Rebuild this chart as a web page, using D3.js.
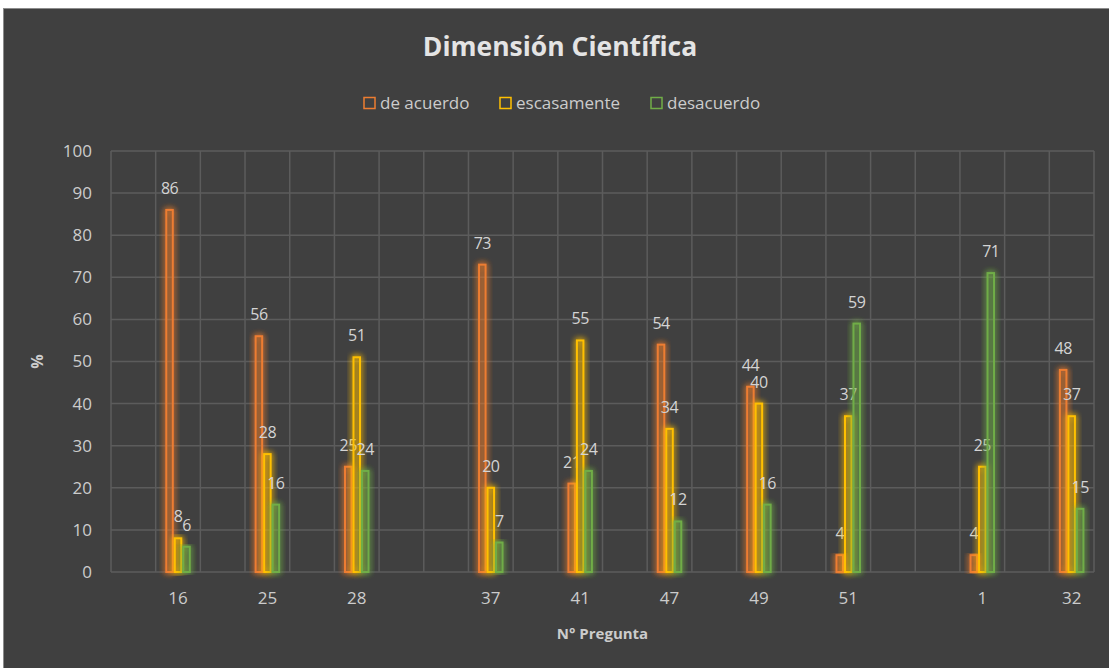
<!DOCTYPE html>
<html>
<head>
<meta charset="utf-8">
<script src="https://cdn.jsdelivr.net/npm/d3@7"></script>
<style>
  body { margin: 0; background: #fff; }
  svg { display: block; }
</style>
</head>
<body>
<svg></svg>
<script>
const width = 1109, height = 668;

// Data (blank rows in the source sheet leave empty slots on the axis)
const categories = ["", "16", "", "25", "", "28", "", "", "37", "", "41", "", "47", "", "49", "", "51", "", "", "1", "", "32"];
const deAcuerdo   = [null, 86, null, 56, null, 25, null, null, 73, null, 21, null, 54, null, 44, null, 4, null, null, 4, null, 48];
const escasamente = [null, 8, null, 28, null, 51, null, null, 20, null, 55, null, 34, null, 40, null, 37, null, null, 25, null, 37];
const desacuerdo  = [null, 6, null, 16, null, 24, null, null, 7, null, 24, null, 12, null, 16, null, 59, null, null, 71, null, 15];
const seriesNames = ["de acuerdo", "escasamente", "desacuerdo"];
const seriesColors = ["#ED7D31", "#FFC000", "#70AD47"];
const yTicks = [0, 10, 20, 30, 40, 50, 60, 70, 80, 90, 100];

const series = [deAcuerdo, escasamente, desacuerdo];
const font = "'Open Sans', sans-serif";
const textColor = "#cccccc";

const svg = d3.select("svg").attr("width", width).attr("height", height);

// Chart background
svg.append("rect")
    .attr("x", 3.5).attr("y", 8.5)
    .attr("width", width - 3).attr("height", height - 8)
    .attr("fill", "#404040")
    .attr("stroke", "#8c8c8c");

// Glow filter for the outlined bars
const defs = svg.append("defs");
const glow = defs.append("filter").attr("id", "glow")
    .attr("x", "-100%").attr("y", "-10%").attr("width", "300%").attr("height", "120%");
glow.append("feGaussianBlur").attr("in", "SourceGraphic").attr("stdDeviation", 3).attr("result", "blur");
const merge = glow.append("feMerge");
merge.append("feMergeNode").attr("in", "blur");
merge.append("feMergeNode").attr("in", "blur");
merge.append("feMergeNode").attr("in", "SourceGraphic");

const margin = { left: 111, right: 15, top: 151, bottom: 96 };

const x = d3.scaleBand()
    .domain(d3.range(categories.length))
    .range([margin.left, width - margin.right])
    .padding(0);

const groupWidth = x.bandwidth() * 0.57;
const xs = d3.scaleBand()
    .domain(d3.range(series.length))
    .range([-groupWidth / 2, groupWidth / 2])
    .padding(0);

const y = d3.scaleLinear()
    .domain([0, 100])
    .range([height - margin.bottom, margin.top]);

// Gridlines
const grid = svg.append("g").attr("stroke", "#5c5c5c").attr("stroke-width", 1.5);
grid.selectAll("line.h")
    .data(yTicks)
    .enter().append("line")
    .attr("x1", x.range()[0]).attr("x2", x.range()[1])
    .attr("y1", d => y(d)).attr("y2", d => y(d));
grid.selectAll("line.v")
    .data(d3.range(categories.length + 1))
    .enter().append("line")
    .attr("x1", d => x.range()[0] + d * x.step())
    .attr("x2", d => x.range()[0] + d * x.step())
    .attr("y1", y(100)).attr("y2", y(0));

// Y axis labels
const yAxis = svg.append("g")
    .attr("transform", `translate(${margin.left - 19},0)`)
    .call(d3.axisLeft(y).tickValues(yTicks).tickSize(0).tickPadding(0));
yAxis.select(".domain").remove();
yAxis.selectAll("text")
    .attr("fill", textColor)
    .attr("font-family", font)
    .attr("font-size", "17px");

// X axis labels
const xAxis = svg.append("g")
    .attr("transform", `translate(0,${y(0) + 20})`)
    .call(d3.axisBottom(x).tickFormat(i => categories[i]).tickSize(0).tickPadding(0));
xAxis.select(".domain").remove();
xAxis.selectAll("text")
    .attr("fill", textColor)
    .attr("font-family", font)
    .attr("font-size", "17px");

// Bars
series.forEach((vals, s) => {
    const pts = vals.map((v, i) => ({ v, i })).filter(d => d.v !== null);
    svg.append("g")
        .selectAll("rect")
        .data(pts)
        .enter().append("rect")
        .attr("x", d => x(d.i) + x.bandwidth() / 2 + xs(s) + 1)
        .attr("y", d => y(d.v))
        .attr("width", xs.bandwidth() - 2)
        .attr("height", d => y(0) - y(d.v))
        .attr("fill", "none")
        .attr("stroke", seriesColors[s])
        .attr("stroke-width", 2)
        .attr("filter", "url(#glow)");

    svg.append("g")
        .selectAll("text")
        .data(pts)
        .enter().append("text")
        .attr("x", d => x(d.i) + x.bandwidth() / 2 + xs(s) + xs.bandwidth() / 2)
        .attr("y", d => y(d.v) - 16)
        .attr("text-anchor", "middle")
        .attr("fill", "#d4d4d4")
        .attr("font-family", font)
        .attr("font-size", "16px")
        .attr("letter-spacing", "-0.5px")
        .text(d => d.v);
});

// Title
svg.append("text")
    .attr("x", 560).attr("y", 56)
    .attr("text-anchor", "middle")
    .attr("fill", "#e4e4e4")
    .attr("font-family", font)
    .attr("font-weight", "bold")
    .attr("font-size", "26.5px")
    .text("Dimensión Científica");

// Legend
const legendX = [363, 499, 650];
const legend = svg.append("g");
seriesNames.forEach((name, s) => {
    legend.append("rect")
        .attr("x", legendX[s] + 1).attr("y", 97.5)
        .attr("width", 11).attr("height", 11)
        .attr("fill", "none")
        .attr("stroke", seriesColors[s])
        .attr("stroke-width", 1.5);
    legend.append("text")
        .attr("x", legendX[s] + 17).attr("y", 109)
        .attr("fill", textColor)
        .attr("font-family", font)
        .attr("font-size", "17px")
        .text(name);
});

// Axis titles
svg.append("text")
    .attr("transform", `translate(43,${(y(0) + y(100)) / 2}) rotate(-90)`)
    .attr("text-anchor", "middle")
    .attr("fill", textColor)
    .attr("font-family", font)
    .attr("font-weight", "bold")
    .attr("font-size", "16px")
    .text("%");

svg.append("text")
    .attr("x", (x.range()[0] + x.range()[1]) / 2).attr("y", 639)
    .attr("text-anchor", "middle")
    .attr("fill", textColor)
    .attr("font-family", font)
    .attr("font-weight", "bold")
    .attr("font-size", "15px")
    .text("N° Pregunta");
</script>
</body>
</html>
